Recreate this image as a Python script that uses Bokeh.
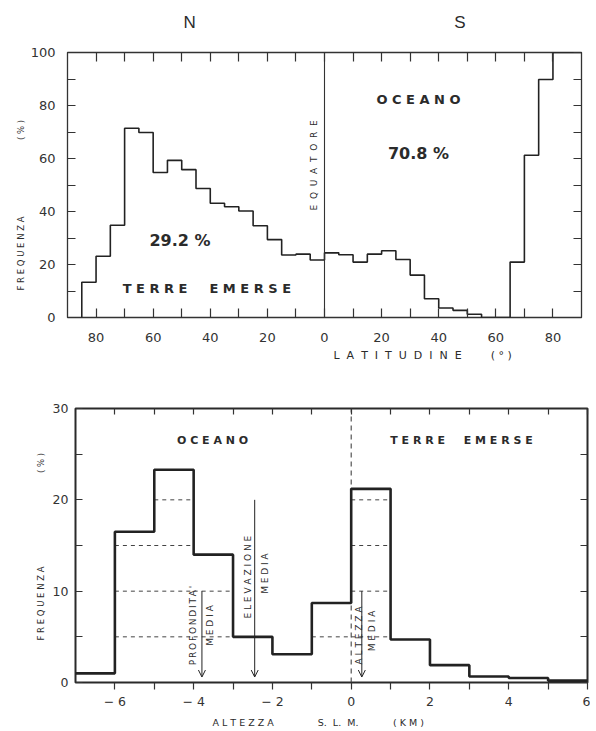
import math
from bokeh.plotting import figure
from bokeh.models import (Range1d, LinearAxis, FixedTicker, Label, Arrow, OpenHead,
                          CustomJSTickFormatter, Title, Spacer)
from bokeh.layouts import column, row
from bokeh.embed import file_html
from bokeh.resources import INLINE

# ---------------- top panel: % of land per 5-degree latitude band ----------------
lat_n_edges = [85, 80, 75, 70, 65, 60, 55, 50, 45, 40, 35, 30, 25, 20, 15, 10, 5, 0]
land_pct_n = [13.3, 23.1, 34.8, 71.4, 69.8, 54.7, 59.3, 55.8, 48.7, 43.1, 41.8,
              40.2, 34.6, 29.4, 23.6, 23.9, 21.7]
lat_s_edges = [0, 5, 10, 15, 20, 25, 30, 35, 40, 45, 50, 55, 60, 65, 70, 75, 80, 85, 90]
land_pct_s = [24.4, 23.7, 20.9, 23.9, 25.2, 21.9, 16.0, 7.1, 3.6, 2.7, 1.2, 0.0,
              0.0, 20.9, 61.2, 89.8, 100.0, 100.0]
lat_tick_values = [-80, -60, -40, -20, 0, 20, 40, 60, 80]
lat_tick_labels = ["80", "60", "40", "20", "0", "20", "40", "60", "80"]
lat_minor_ticks = [-70, -50, -30, -10, 10, 30, 50, 70]
pct_tick_values = [0, 20, 40, 60, 80, 100]
pct_minor_ticks = [10, 30, 50, 70, 90]
land_share = "29.2 %"
ocean_share = "70.8 %"

# ---------------- bottom panel: hypsometric frequency per 1 km ----------------
alt_edges = [-7, -6, -5, -4, -3, -2, -1, 0, 1, 2, 3, 4, 5, 6]
alt_pct = [1.0, 16.5, 23.3, 14.0, 5.0, 3.1, 8.7, 21.2, 4.7, 1.9, 0.65, 0.5, 0.2]
alt_tick_values = [-6, -4, -2, 0, 2, 4, 6]
alt_tick_labels = ["\u2212 6", "\u2212 4", "\u2212 2", "0", "2", "4", "6"]
alt_minor_ticks = [-5, -3, -1, 1, 3, 5]
freq_tick_values = [0, 10, 20, 30]
freq_minor_ticks = [5, 15, 25]
dash_levels = [5, 10, 15, 20]
mean_depth_km = -3.79
mean_elevation_km = -2.45
mean_land_height_km = 0.27

INK = "#222222"
TXT = "#2b2b2b"
REG = "DejaVu Sans"
EM = "\u2003"
NB = "\u00a0"
TH = "\u2009"


def add_axis(p, loc, ticks, minor, labels=None, tin=0, tout=0, standoff=0, size="13px"):
    ax = LinearAxis(ticker=FixedTicker(ticks=ticks, minor_ticks=minor))
    ax.axis_line_color = None
    ax.major_tick_in = tin
    ax.major_tick_out = tout
    ax.minor_tick_in = tin
    ax.minor_tick_out = tout
    ax.major_tick_line_color = "#333333"
    ax.minor_tick_line_color = "#333333"
    ax.major_tick_line_width = 1.2
    ax.minor_tick_line_width = 1.2
    if labels is None:
        ax.formatter = CustomJSTickFormatter(code="return ''")
        ax.major_label_text_font_size = "1px"
        ax.major_label_standoff = 0
    else:
        if labels is not True:
            ax.major_label_overrides = {t: l for t, l in zip(ticks, labels)}
        ax.major_label_text_font = REG
        ax.major_label_text_font_size = size
        ax.major_label_text_color = "#333333"
        ax.major_label_standoff = standoff
    p.add_layout(ax, loc)
    return ax


def add_title(p, loc, text, size, offset, standoff, font=REG):
    p.add_layout(Title(text=text, align="left", offset=offset, standoff=standoff,
                       text_font=font, text_font_size=size, text_font_style="normal",
                       text_color=TXT), loc)


def txt(p, x, y, s, size, bold=False, angle=0.0, font=REG, color=TXT):
    p.add_layout(Label(x=x, y=y, text=s, angle=angle, text_align="center",
                       text_baseline="middle", text_font=font,
                       text_font_size=size, text_color=color,
                       text_font_style="bold" if bold else "normal"))


# =============================== TOP FIGURE ===============================
p1 = figure(frame_width=514, frame_height=265, x_range=Range1d(-90, 90),
            y_range=Range1d(0, 100), output_backend="svg", toolbar_location=None,
            x_axis_location=None, y_axis_location=None, title_location=None,
            min_border_left=67, min_border_right=9, min_border_top=52,
            min_border_bottom=61)
p1.xgrid.grid_line_color = None
p1.ygrid.grid_line_color = None
p1.outline_line_color = "#333333"
p1.outline_line_width = 1.3
p1.background_fill_color = "white"
p1.border_fill_color = "white"

add_axis(p1, "below", lat_tick_values, lat_minor_ticks, lat_tick_labels, tin=9, standoff=15)
top_ax = add_axis(p1, "above", lat_tick_values, lat_minor_ticks, None, tin=9)
add_axis(p1, "left", pct_tick_values, pct_minor_ticks, True, tin=8, standoff=12)
add_axis(p1, "right", pct_tick_values, pct_minor_ticks, None, tin=8)

# hemisphere headers (N / S) as the label of the top axis
top_ax.axis_label = "N" + EM * 15 + TH + "S"
top_ax.axis_label_standoff = 21
top_ax.axis_label_text_font = "Liberation Sans"
top_ax.axis_label_text_font_size = "17px"
top_ax.axis_label_text_font_style = "normal"
top_ax.axis_label_text_color = TXT

add_title(p1, "left", "F R E Q U E N Z A" + EM * 9 + "( % )", "8.5px", 27, 3)
add_title(p1, "below", (NB + " ").join("LATITUDINE") + EM * 2 + NB + " ( \u00b0 )",
          "11px", 266, 4)

xs, ys = [-lat_n_edges[0]], [0]
for i, v in enumerate(land_pct_n):
    xs += [-lat_n_edges[i], -lat_n_edges[i + 1]]
    ys += [v, v]
for i, v in enumerate(land_pct_s):
    xs += [lat_s_edges[i], lat_s_edges[i + 1]]
    ys += [v, v]
p1.line(xs, ys, line_color=INK, line_width=1.6)
# equator
p1.segment(x0=[0], y0=[0], x1=[0], y1=[100], line_color="#333333", line_width=1.1)

txt(p1, -3.7, 57.4, (NB + " ").join("EQUATORE"), "9px", angle=math.pi / 2)
txt(p1, -50.6, 29.1, land_share, "16px", bold=True)
txt(p1, -41.2, 11.1, "T E R R E " + EM + " E M E R S E", "13px", bold=True)
txt(p1, 32.9, 82.1, "O C E A N O", "13px", bold=True)
txt(p1, 32.9, 61.9, ocean_share, "16px", bold=True)

# ============================== BOTTOM FIGURE ==============================
p2 = figure(frame_width=512, frame_height=274, x_range=Range1d(-7, 6),
            y_range=Range1d(0, 30), output_backend="svg", toolbar_location=None,
            x_axis_location=None, y_axis_location=None, title_location=None,
            min_border_left=67, min_border_right=3, min_border_top=30,
            min_border_bottom=49)
p2.xgrid.grid_line_color = None
p2.ygrid.grid_line_color = None
p2.outline_line_color = "#2a2a2a"
p2.outline_line_width = 2
p2.background_fill_color = "white"
p2.border_fill_color = "white"

add_axis(p2, "below", alt_tick_values, alt_minor_ticks, alt_tick_labels, tout=7, standoff=4, size="12.5px")
add_axis(p2, "above", alt_tick_values, alt_minor_ticks, None, tin=6)
add_axis(p2, "left", freq_tick_values, freq_minor_ticks, True, tin=7, standoff=7, size="12.5px")
add_axis(p2, "right", freq_tick_values, freq_minor_ticks, None, tin=7)

add_title(p2, "left", "F R E Q U E N Z A" + EM * 11 + "( % )", "8.5px", 42, 8)
add_title(p2, "below", "A L T E Z Z A" + EM * 4 + NB + " S." + NB + " L." + NB + " M."
          + EM * 3 + NB + " ( K M )", "9.5px", 137, 7)

# dashed levels inside bars
d0, d1, dy = [], [], []
for lev in dash_levels:
    for i, v in enumerate(alt_pct):
        if v >= lev:
            d0.append(alt_edges[i])
            d1.append(alt_edges[i + 1])
            dy.append(lev)
p2.segment(x0=d0, y0=dy, x1=d1, y1=dy, line_color="#444444", line_width=1, line_dash="4 4")
# sea level
p2.segment(x0=[0], y0=[0], x1=[0], y1=[30], line_color="#444444", line_width=1.1, line_dash="5 4")

bx, by = [], []
for i, v in enumerate(alt_pct):
    bx += [alt_edges[i], alt_edges[i + 1]]
    by += [v, v]
p2.line(bx, by, line_color=INK, line_width=2.6)

for xm, ytop in ((mean_depth_km, 10.0), (mean_elevation_km, 20.0), (mean_land_height_km, 10.0)):
    p2.add_layout(Arrow(end=OpenHead(size=7, line_width=1, line_color=INK),
                        x_start=xm, y_start=ytop, x_end=xm, y_end=0.6,
                        line_color=INK, line_width=1))

txt(p2, -3.52, 26.5, "O C E A N O", "11px", bold=True)
txt(p2, 2.80, 26.55, "T E R R E " + EM + " E M E R S E", "11px", bold=True)
txt(p2, -4.01, 6.24, TH.join("PROFONDITA'"), "9px", angle=math.pi / 2)
txt(p2, -3.59, 6.24, "M E D I A", "9px", angle=math.pi / 2)
txt(p2, -2.61, 11.53, "E L E V A Z I O N E", "9px", angle=math.pi / 2)
txt(p2, -2.20, 11.93, "M E D I A", "9px", angle=math.pi / 2)
txt(p2, 0.19, 5.15, "A L T E Z Z A", "9px", angle=math.pi / 2)
txt(p2, 0.52, 5.64, "M E D I A", "9px", angle=math.pi / 2)

layout = column(p1, row(Spacer(width=8), p2, spacing=0), spacing=0)
open("out.html", "w").write(file_html(layout, INLINE))
